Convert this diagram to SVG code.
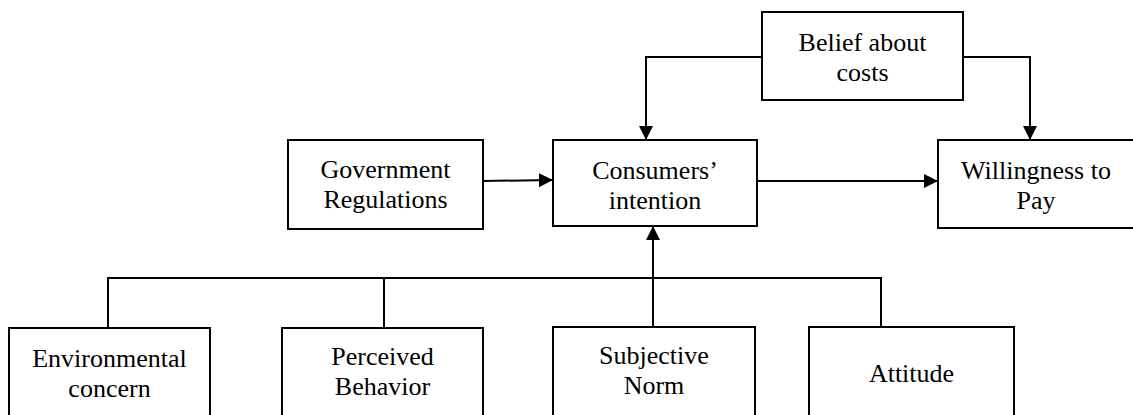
<svg xmlns="http://www.w3.org/2000/svg" width="1133" height="415" viewBox="0 0 1133 415">
<style>
.box{fill:#fff;stroke:#000;stroke-width:2}
.lbl{font-family:"Liberation Serif","Times New Roman",serif;font-size:26px;fill:#000;text-anchor:middle}
.con{fill:none;stroke:#000;stroke-width:2}
</style>
<defs>
<marker id="arr" markerUnits="userSpaceOnUse" markerWidth="14" markerHeight="14" refX="14" refY="7" orient="auto">
<path d="M0,0 L14,7 L0,14 z" fill="#000"/>
</marker>
</defs>
<rect width="1133" height="415" fill="#fff"/>
<g id="connectors">
<path class="con" d="M762,57 H646 V140" marker-end="url(#arr)"/>
<path class="con" d="M963,57 H1030 V140" marker-end="url(#arr)"/>
<path class="con" d="M483,181 L553,180" marker-end="url(#arr)"/>
<path class="con" d="M757,181 H938" marker-end="url(#arr)"/>
<path class="con" d="M108,328 V278 H881 V327"/>
<path class="con" d="M384,278 V328"/>
<path class="con" d="M653,327 V226" marker-end="url(#arr)"/>
</g>
<g id="belief">
<rect class="box" x="762" y="12" width="201" height="88"/>
<text class="lbl" x="862.5" y="51">Belief about</text>
<text class="lbl" x="862.5" y="81">costs</text>
</g>
<g id="government">
<rect class="box" x="288" y="140" width="195" height="89"/>
<text class="lbl" x="385.5" y="178">Government</text>
<text class="lbl" x="385.5" y="208">Regulations</text>
</g>
<g id="consumers">
<rect class="box" x="553" y="140" width="204" height="86"/>
<text class="lbl" x="655" y="179">Consumers’</text>
<text class="lbl" x="655" y="209">intention</text>
</g>
<g id="willingness">
<rect class="box" x="938" y="140" width="196" height="88"/>
<text class="lbl" x="1036" y="179">Willingness to</text>
<text class="lbl" x="1036" y="209">Pay</text>
</g>
<g id="environmental">
<rect class="box" x="9" y="328" width="201" height="100"/>
<text class="lbl" x="109.5" y="367">Environmental</text>
<text class="lbl" x="109.5" y="397">concern</text>
</g>
<g id="perceived">
<rect class="box" x="282" y="328" width="201" height="100"/>
<text class="lbl" x="382.5" y="365">Perceived</text>
<text class="lbl" x="382.5" y="395">Behavior</text>
</g>
<g id="subjective">
<rect class="box" x="553" y="327" width="202" height="100"/>
<text class="lbl" x="654" y="364">Subjective</text>
<text class="lbl" x="654" y="394">Norm</text>
</g>
<g id="attitude">
<rect class="box" x="809" y="327" width="205" height="100"/>
<text class="lbl" x="911.5" y="382">Attitude</text>
</g>
</svg>
